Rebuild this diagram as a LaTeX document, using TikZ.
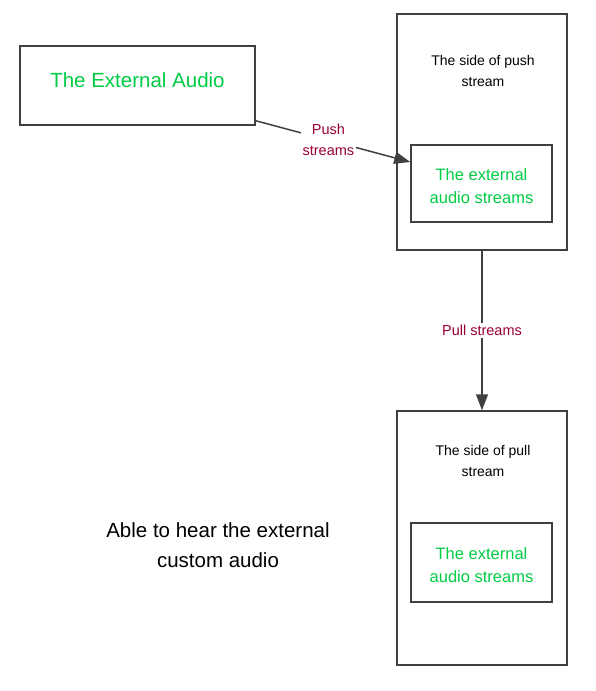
\documentclass[tikz,border=0pt]{standalone}
\usepackage{fontspec}
\setmainfont{Liberation Sans}
\usetikzlibrary{arrows.meta}
\definecolor{audiogreen}{RGB}{0,204,68}
\definecolor{flowred}{RGB}{153,0,51}
\definecolor{linegray}{RGB}{64,64,64}
\tikzset{
    box/.style={draw=linegray,line width=1.5pt,rectangle,inner sep=0pt},
    flow/.style={draw=linegray,line width=1.5pt,-{Triangle[length=16pt,width=12pt]}},
    flowlabel/.style={fill=white,text=flowred,align=center,font=\fontsize{14.5}{21}\selectfont,inner sep=2pt},
}
\begin{document}
\begin{tikzpicture}[x=1pt,y=-1pt]
        \useasboundingbox (0,0) rectangle (596,691);
        % boxes
        \node[box,minimum width=235pt,minimum height=79pt,text=audiogreen,text depth=10pt,
              font=\fontsize{20.5}{25}\selectfont] (extaudio) at (137.5,85.5) {The External Audio};
        \node[box,minimum width=170pt,minimum height=236pt] (pushbox) at (482,132) {};
        \node[box,minimum width=141pt,minimum height=77pt,text=audiogreen,align=center,
              font=\fontsize{16.5}{23}\selectfont] (pushin) at (481.5,183.5) {\rule{0pt}{18pt}The external\\audio streams};
        \node[box,minimum width=170pt,minimum height=254pt] (pullbox) at (482,538) {};
        \node[box,minimum width=141pt,minimum height=79pt,text=audiogreen,align=center,
              font=\fontsize{16.5}{23}\selectfont] (pullin) at (481.5,562.5) {\rule{0pt}{18pt}The external\\audio streams};
        % texts
        \node[align=center,font=\fontsize{14}{21}\selectfont] (pushside) at (483,71) {The side of push\\stream};
        \node[align=center,font=\fontsize{14}{21}\selectfont] (pullside) at (483,461) {The side of pull\\stream};
        \node[align=center,font=\fontsize{20.5}{30}\selectfont] (hear) at (218,545) {Able to hear the external\\custom audio};
        % streams
        \draw[flow] ([yshift=5pt]extaudio.south east) -- ([yshift=21.5pt]pushin.west)
            node[pos=0.47,flowlabel]{Push\\streams};
        \draw[flow] (pushbox.south) -- (pullbox.north)
            node[pos=0.5,flowlabel]{Pull streams};
\end{tikzpicture}
\end{document}
